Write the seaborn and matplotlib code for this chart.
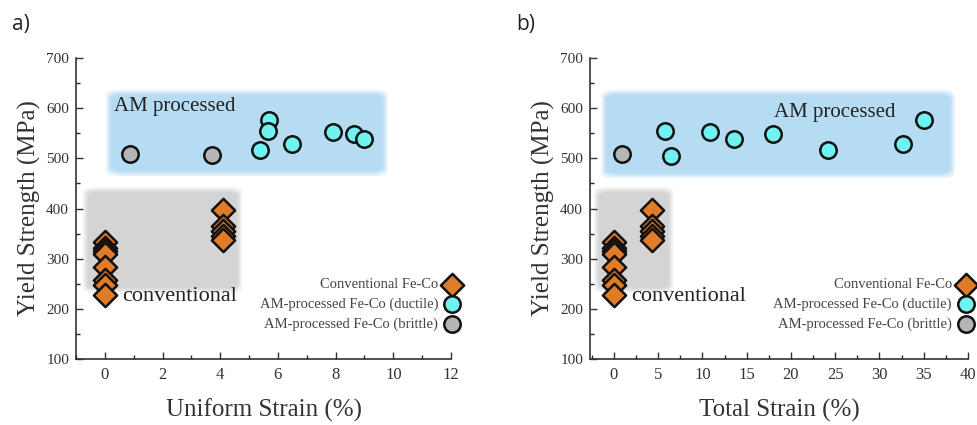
import matplotlib
matplotlib.use("Agg")
import matplotlib.pyplot as plt
from matplotlib.patches import FancyBboxPatch
from matplotlib.ticker import MultipleLocator
import seaborn as sns
import pandas as pd

sns.set_style("white")
plt.rcParams['font.family'] = ['Liberation Serif', 'DejaVu Serif']

# Panel a: uniform strain
conv_a_x = [0, 0, 0, 0, 0, 0, 0, 0, 4.1, 4.1, 4.1, 4.1, 4.1]
conv_a_y = [333, 322, 315, 310, 283, 258, 248, 228, 398, 365, 355, 345, 338]
duct_a_x = [5.7, 5.65, 5.37, 6.5, 7.9, 8.63, 9.0]
duct_a_y = [577, 554, 516, 529, 553, 548, 539]
brit_a_x = [0.88, 3.7]
brit_a_y = [508, 506]

# Panel b: total strain
conv_b_x = [0, 0, 0, 0, 0, 0, 0, 0, 4.3, 4.3, 4.3, 4.3, 4.3]
conv_b_y = [333, 322, 315, 310, 283, 258, 248, 228, 398, 365, 355, 345, 338]
duct_b_x = [5.8, 6.4, 10.9, 13.6, 18.0, 24.2, 32.7, 35.0]
duct_b_y = [554, 505, 553, 539, 549, 516, 528, 576]
brit_b_x = [0.95]
brit_b_y = [508]

labels = ["Conventional Fe-Co", "AM-processed Fe-Co (ductile)", "AM-processed Fe-Co (brittle)"]
colors = {"Conventional Fe-Co": "#e07b28",
          "AM-processed Fe-Co (ductile)": "#6ff2f0",
          "AM-processed Fe-Co (brittle)": "#b5b5b5"}
markers = {"Conventional Fe-Co": "D",
           "AM-processed Fe-Co (ductile)": "o",
           "AM-processed Fe-Co (brittle)": "o"}

SERIF = ['Liberation Serif', 'DejaVu Serif']

fig = plt.figure(figsize=(9.77, 4.25), dpi=100)
ax1 = fig.add_axes([76 / 977, 1 - 359 / 425, 375 / 977, 301 / 425])
ax2 = fig.add_axes([590 / 977, 1 - 359 / 425, 378 / 977, 301 / 425])


def make_df(cx, cy, dx, dy, bx, by):
    rows = []
    for x, y in zip(cx, cy):
        rows.append((x, y, labels[0]))
    for x, y in zip(dx, dy):
        rows.append((x, y, labels[1]))
    for x, y in zip(bx, by):
        rows.append((x, y, labels[2]))
    return pd.DataFrame(rows, columns=["x", "y", "group"])


def panel(ax, df, xlim, xmaj, xmin, blue, grey, am_pos, am_ha, conv_pos, xlabel, tag,
          leg_x, tag_x):
    ax.set_xlim(*xlim)
    ax.set_ylim(100, 700)
    xr = xlim[1] - xlim[0]
    for (x0, y0, x1, y1), c in [(blue, "#b6dcf4"), (grey, "#d4d4d4")]:
        for grow, a in [(0.012, 0.35), (0.006, 0.6)]:
            gx = grow * xr
            gy = grow * 600 * 1.3
            p = FancyBboxPatch((x0 - gx, y0 - gy), x1 - x0 + 2 * gx, y1 - y0 + 2 * gy,
                               boxstyle="round,pad=0,rounding_size=%f" % (0.035 * xr),
                               mutation_aspect=600 / xr * 0.55,
                               facecolor=c, edgecolor="none", alpha=a, zorder=0)
            ax.add_patch(p)
        p = FancyBboxPatch((x0, y0), x1 - x0, y1 - y0,
                           boxstyle="round,pad=0,rounding_size=%f" % (0.03 * xr),
                           mutation_aspect=600 / xr * 0.55,
                           facecolor=c, edgecolor="none", zorder=0)
        ax.add_patch(p)
    for lab in labels:
        sub = df[df.group == lab]
        sns.scatterplot(data=sub, x="x", y="y", ax=ax, marker=markers[lab],
                        color=colors[lab], s=140,
                        edgecolor="#111111", linewidth=1.8, label=lab, zorder=3)
    ax.text(am_pos[0], am_pos[1], "AM processed", fontsize=15, ha=am_ha, va="center",
            color="#222222")
    ax.text(conv_pos[0], conv_pos[1], "conventional", fontsize=16, ha="left", va="center",
            color="#222222")
    ax.set_xlabel(xlabel, fontsize=18, color="#333333", labelpad=11)
    ax.set_ylabel("Yield Strength (MPa)", fontsize=18, color="#333333", labelpad=4)
    ax.xaxis.set_major_locator(MultipleLocator(xmaj))
    ax.xaxis.set_minor_locator(MultipleLocator(xmin))
    ax.yaxis.set_major_locator(MultipleLocator(100))
    ax.yaxis.set_minor_locator(MultipleLocator(50))
    ax.tick_params(axis="both", which="major", direction="in", length=5, width=1,
                   colors="#333333", left=True, bottom=True,
                   labelfontfamily="Liberation Serif")
    ax.tick_params(axis="x", which="major", labelsize=12, pad=6)
    ax.tick_params(axis="y", which="major", labelsize=11, pad=5)
    ax.tick_params(axis="both", which="minor", direction="in", length=3, width=1,
                   left=True, bottom=True)
    for s in ["top", "right"]:
        ax.spines[s].set_visible(False)
    for s in ["left", "bottom"]:
        ax.spines[s].set_color("#333333")
        ax.spines[s].set_linewidth(1.2)
    leg = ax.legend(loc="lower right", bbox_to_anchor=(leg_x, 0.07), markerfirst=False,
                    frameon=False, handletextpad=0.2, labelspacing=0.42,
                    borderpad=0, handlelength=1.5, prop={"family": SERIF, "size": 10.5})
    for t in leg.get_texts():
        t.set_color("#444444")
    fig.text(tag_x, 0.93, tag, fontsize=15,
             family=["Open Sans", "DejaVu Sans"], color="#222222")


dfa = make_df(conv_a_x, conv_a_y, duct_a_x, duct_a_y, brit_a_x, brit_a_y)
dfb = make_df(conv_b_x, conv_b_y, duct_b_x, duct_b_y, brit_b_x, brit_b_y)

panel(ax1, dfa, (-1, 12), 2, 1, (0.2, 474, 9.65, 627), (-0.6, 241, 4.6, 433),
      (0.3, 604), "left", (0.6, 225), "Uniform Strain (%)", "a)", 1.051, 0.012)
panel(ax2, dfb, (-2.7, 40), 5, 2.5, (-0.9, 470, 38.0, 627), (-1.7, 241, 6.2, 433),
      (25.0, 592), "center", (1.9, 225), "Total Strain (%)", "b)", 1.042, 0.528)

fig.savefig("out.png", dpi=100)
